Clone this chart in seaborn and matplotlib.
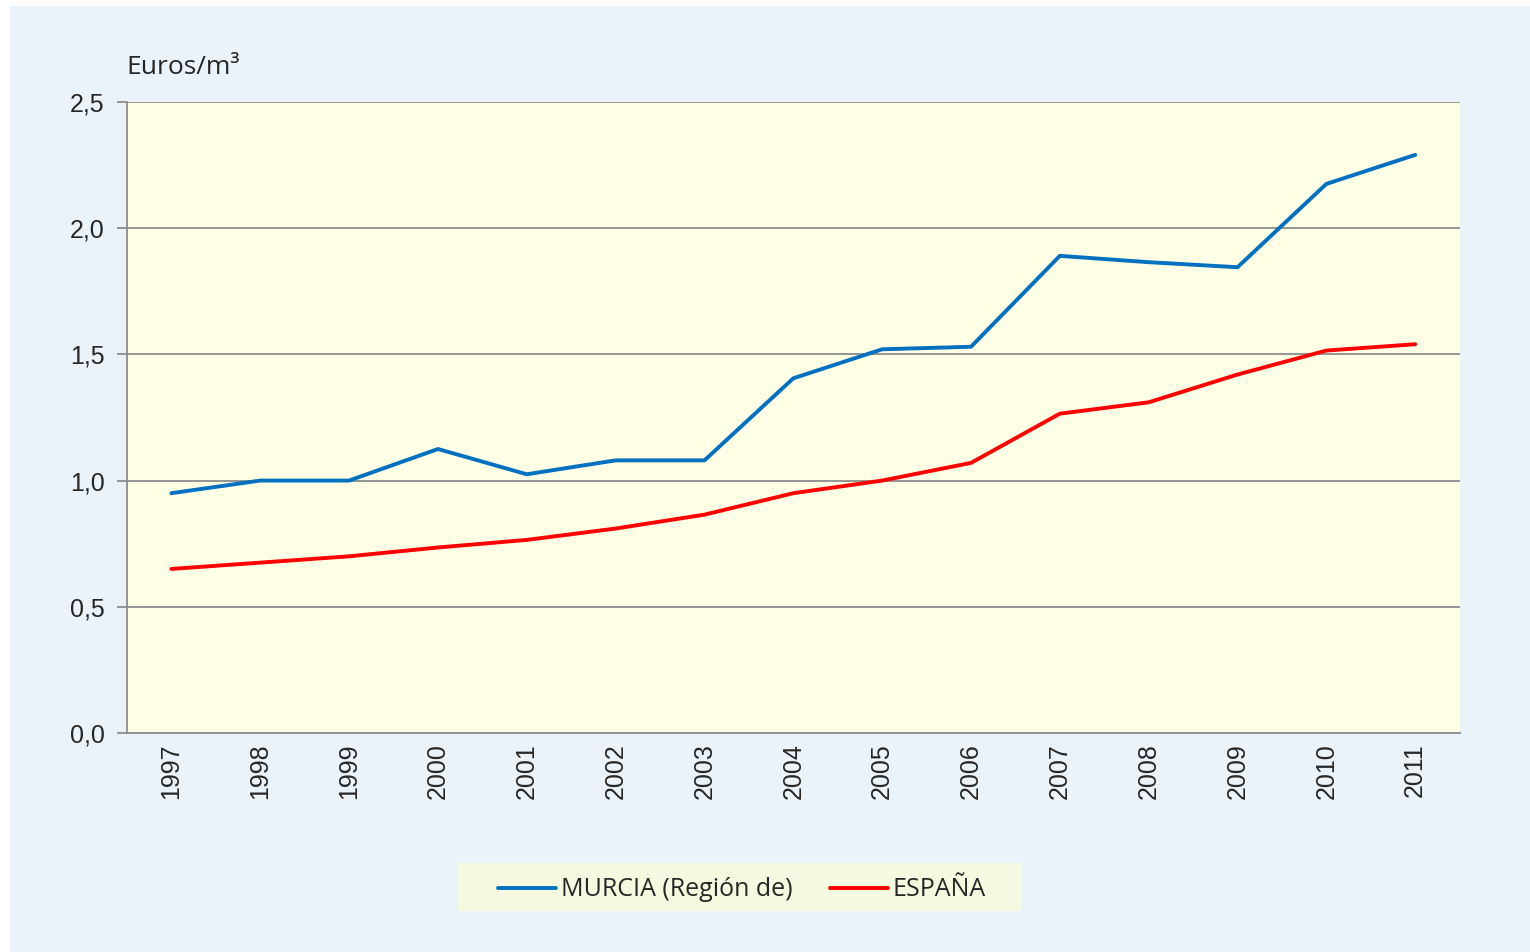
import pandas as pd
import matplotlib.pyplot as plt
import seaborn as sns
from matplotlib.patches import Rectangle

# Datos (Euros/m3)
anios = ['1997', '1998', '1999', '2000', '2001', '2002', '2003', '2004',
         '2005', '2006', '2007', '2008', '2009', '2010', '2011']
murcia = [0.95, 1.00, 1.00, 1.125, 1.025, 1.08, 1.08, 1.405,
          1.52, 1.53, 1.89, 1.865, 1.845, 2.175, 2.29]
espana = [0.65, 0.675, 0.70, 0.735, 0.765, 0.81, 0.865, 0.95,
          1.00, 1.07, 1.265, 1.31, 1.42, 1.515, 1.54]
series = ['MURCIA (Región de)', 'ESPAÑA']
colores = ['#0070C0', '#FF0000']

df = pd.DataFrame({
    'anio': anios * 2,
    'valor': murcia + espana,
    'serie': [series[0]] * len(anios) + [series[1]] * len(anios),
})

sns.set_style('white')
plt.rcParams['font.family'] = ['Liberation Sans', 'DejaVu Sans']

fig = plt.figure(figsize=(15.3, 9.52), dpi=100)
fig.patch.set_facecolor('white')
# fondo azul claro del gráfico y caja de la leyenda
fig.patches.append(Rectangle((10 / 1530, 0), 1, 1 - 6 / 952, transform=fig.transFigure,
                             facecolor='#EBF3FA', edgecolor='none', zorder=-10))
fig.patches.append(Rectangle((458 / 1530, 1 - 911 / 952), 564 / 1530, 48 / 952,
                             transform=fig.transFigure, facecolor='#F5F9DF',
                             edgecolor='none', zorder=-5))

ax = fig.add_axes([0.083, 0.23, 0.871, 0.663])
ax.set_facecolor('#FFFFE6')
sns.lineplot(data=df, x='anio', y='valor', hue='serie', palette=colores,
             linewidth=2.8, ax=ax, sort=False)

ax.set_xlim(-0.5, len(anios) - 0.5)
ax.set_ylim(0, 2.5)
ax.set_yticks([0, 0.5, 1.0, 1.5, 2.0, 2.5])
ax.set_yticklabels(['0,0', '0,5', '1,0', '1,5', '2,0', '2,5'])
ax.grid(axis='y', color='#8C8C8C', linewidth=1.3)
ax.set_axisbelow(True)
ax.set_xlabel('')
ax.set_ylabel('')

for s in ['top', 'right']:
    ax.spines[s].set_visible(False)
for s in ['left', 'bottom']:
    ax.spines[s].set_color('#8C8C8C')
    ax.spines[s].set_linewidth(1.3)

ax.tick_params(axis='y', left=True, length=7, width=1.3, color='#8C8C8C',
               labelsize=18, pad=9)
ax.tick_params(axis='x', bottom=False, labelsize=18, pad=4, labelrotation=90)

fig.text(126 / 1530, 1 - 67 / 952, 'Euros/m³', fontsize=19, family=['Open Sans', 'DejaVu Sans'],
         ha='left', va='center')

ax.get_legend().remove()
handles, labels = ax.get_legend_handles_labels()
leg = fig.legend(handles, labels, loc='center', bbox_to_anchor=(742 / 1530, 1 - 890 / 952),
                 ncol=2, frameon=False, handlelength=2.3, handletextpad=0.2,
                 columnspacing=1.5, borderaxespad=0,
                 prop={'family': ['Open Sans', 'DejaVu Sans'], 'size': 18})

fig.savefig('out.png', dpi=100, facecolor=fig.get_facecolor())
